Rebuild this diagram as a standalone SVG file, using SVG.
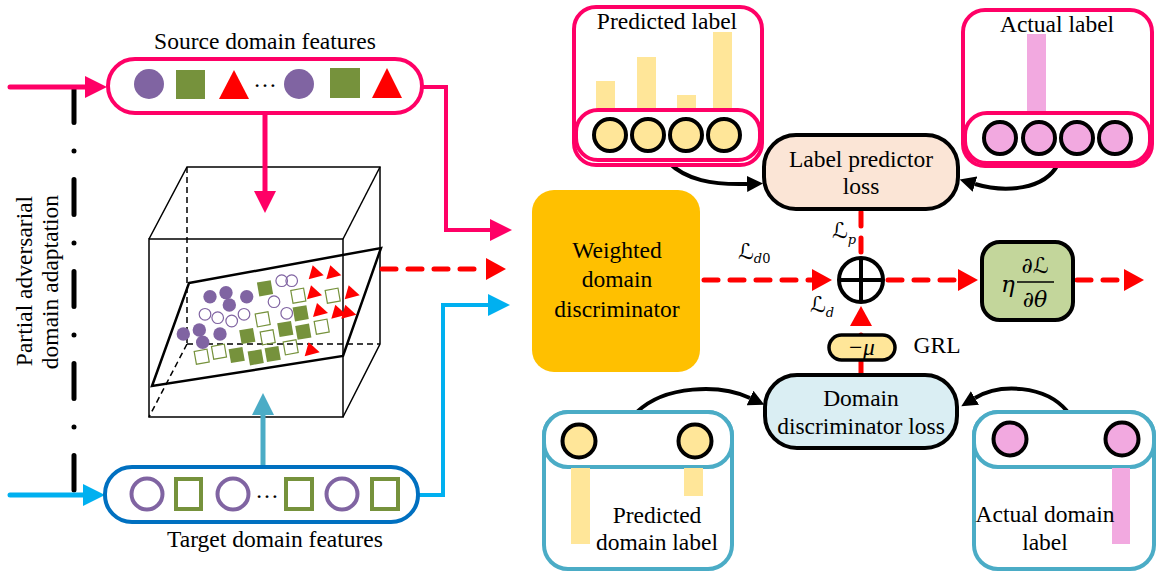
<svg xmlns="http://www.w3.org/2000/svg" width="1156" height="574" viewBox="0 0 1156 574">
<style>
.t{font-family:"Liberation Serif","Times New Roman",serif;font-size:23.5px;fill:#000}
.m{font-family:"DejaVu Serif","DejaVu Sans",serif;font-style:italic;fill:#000}
.box3d{fill:none;stroke:#000;stroke-width:1.5}
.dash3d{fill:none;stroke:#000;stroke-width:1.5;stroke-dasharray:6 4}
.rd{fill:none;stroke:#FF0000;stroke-width:5;stroke-dasharray:14 12;stroke-linecap:round}
.blk{fill:none;stroke:#000;stroke-width:4}
</style>
<defs>
<marker id="aPink" viewBox="0 0 22 22" markerWidth="22" markerHeight="22" refX="0" refY="11" orient="auto" markerUnits="userSpaceOnUse"><path d="M0,0 L22,11 L0,22 z" fill="#FF0066"/></marker>
<marker id="aBlue" viewBox="0 0 22 22" markerWidth="22" markerHeight="22" refX="0" refY="11" orient="auto" markerUnits="userSpaceOnUse"><path d="M0,0 L22,11 L0,22 z" fill="#00B0F0"/></marker>
<marker id="aTeal" viewBox="0 0 22 22" markerWidth="22" markerHeight="22" refX="0" refY="11" orient="auto" markerUnits="userSpaceOnUse"><path d="M0,0 L22,11 L0,22 z" fill="#4BACC6"/></marker>
<marker id="aRed" viewBox="0 0 20 22" markerWidth="20" markerHeight="22" refX="0" refY="11" orient="auto" markerUnits="userSpaceOnUse"><path d="M0,0 L20,11 L0,22 z" fill="#FF0000"/></marker>
<marker id="aBlk" viewBox="0 0 16 16" markerWidth="16" markerHeight="16" refX="0" refY="8" orient="auto" markerUnits="userSpaceOnUse"><path d="M0,0 L16,8 L0,16 z" fill="#000"/></marker>
<circle id="pf" r="6.7" fill="#8064A2"/>
<circle id="po" r="5.8" fill="none" stroke="#8064A2" stroke-width="1.2"/>
<rect id="gf" x="-7" y="-7" width="14" height="14" fill="#76923C" transform="rotate(-10)"/>
<rect id="go" x="-6.5" y="-6.5" width="13" height="13" fill="none" stroke="#76923C" stroke-width="1.2" transform="rotate(-10)"/>
<polygon id="rt" points="-7,7 8,3 -3,-7" fill="#FF0000"/>
</defs>

<!-- left side label -->
<g id="side-label">
<line x1="74" y1="87.5" x2="74" y2="490" stroke="#000" stroke-width="5" stroke-linecap="round" stroke-dasharray="35 28.5 0.01 28.5"/>
<text class="t" transform="translate(32,281) rotate(-90)" text-anchor="middle">Partial adversarial</text>
<text class="t" transform="translate(58,282) rotate(-90)" text-anchor="middle">domain adaptation</text>
</g>

<!-- 3D feature space -->
<g id="feature-space">
<polygon points="149,239 343,239 343,417 149,417" class="box3d"/>
<polyline points="149,239 187,167 380,167 380,344 343,417" class="box3d"/>
<line x1="343" y1="239" x2="380" y2="167" class="box3d"/>
<line x1="187" y1="167" x2="187" y2="344" class="dash3d"/>
<line x1="187" y1="344" x2="380" y2="344" class="dash3d"/>
<line x1="187" y1="344" x2="149" y2="417" class="dash3d"/>
<use href="#pf" x="210" y="296.7"/><use href="#pf" x="226" y="292.7"/><use href="#pf" x="246.7" y="296.7"/><use href="#pf" x="229.3" y="305"/>
<use href="#pf" x="183.3" y="334"/><use href="#pf" x="199.3" y="330"/><use href="#pf" x="220" y="334"/><use href="#pf" x="202.7" y="342.3"/>
<use href="#po" x="205" y="314.3"/><use href="#po" x="217.7" y="317.7"/><use href="#po" x="231.7" y="321"/><use href="#po" x="244" y="314.3"/>
<use href="#po" x="274" y="301.7"/><use href="#po" x="281.7" y="280.7"/><use href="#po" x="291.7" y="280.7"/><use href="#po" x="286.7" y="313.3"/>
<use href="#gf" x="265" y="288.3"/><use href="#gf" x="300.7" y="313.3"/><use href="#gf" x="247.3" y="336"/><use href="#gf" x="285.3" y="329"/>
<use href="#gf" x="303.3" y="331.7"/><use href="#gf" x="236.7" y="355"/><use href="#gf" x="255.7" y="357.3"/><use href="#gf" x="272.7" y="354"/>
<use href="#go" x="298.3" y="295.7"/><use href="#go" x="332.7" y="295.7"/><use href="#go" x="262.7" y="319.3"/><use href="#go" x="267.7" y="337.3"/>
<use href="#go" x="321.7" y="326.7"/><use href="#go" x="201.7" y="356.7"/><use href="#go" x="219" y="351.7"/><use href="#go" x="290.7" y="347.3"/>
<use href="#rt" x="315.7" y="272.3"/><use href="#rt" x="333.3" y="272.3"/><use href="#rt" x="314" y="292.3"/><use href="#rt" x="351.7" y="292.3"/>
<use href="#rt" x="320" y="310"/><use href="#rt" x="338.3" y="311.7"/><use href="#rt" x="348.3" y="311.7"/><use href="#rt" x="311.7" y="349.3"/>
<polygon points="189,283 381,248 343,356 152,386" fill="none" stroke="#000" stroke-width="2.5"/>
</g>

<!-- connectors -->
<g id="connectors">
<line x1="10" y1="87" x2="85" y2="87" stroke="#FF0066" stroke-width="5" stroke-linecap="round" marker-end="url(#aPink)"/>
<line x1="10" y1="495" x2="83" y2="495" stroke="#00B0F0" stroke-width="5" stroke-linecap="round" marker-end="url(#aBlue)"/>
<line x1="265" y1="113" x2="265" y2="191" stroke="#FF0066" stroke-width="5" marker-end="url(#aPink)"/>
<line x1="263" y1="467" x2="263" y2="415" stroke="#4BACC6" stroke-width="5" marker-end="url(#aTeal)"/>
<polyline points="422,87 446,87 446,230 490,230" fill="none" stroke="#FF0066" stroke-width="4" marker-end="url(#aPink)"/>
<polyline points="418,495 443,495 443,305 488,305" fill="none" stroke="#00B0F0" stroke-width="4" marker-end="url(#aBlue)"/>
<line x1="382" y1="269" x2="486" y2="269" class="rd" marker-end="url(#aRed)"/>
<line x1="704" y1="280" x2="812" y2="280" class="rd" marker-end="url(#aRed)"/>
<line x1="861" y1="212" x2="861" y2="255" class="rd"/>
<line x1="861" y1="375" x2="861" y2="326" class="rd" marker-end="url(#aRed)"/>
<line x1="888" y1="280" x2="958" y2="280" class="rd" marker-end="url(#aRed)"/>
<line x1="1077" y1="280" x2="1124" y2="280" class="rd" marker-end="url(#aRed)"/>
<path d="M668,162 C686,180 712,185 747,184" class="blk" marker-end="url(#aBlk)"/>
<path d="M1058,164 C1045,190 1005,193 975,184" class="blk" marker-end="url(#aBlk)"/>
<path d="M637,412 C665,385 720,384 750,398" class="blk" marker-end="url(#aBlk)"/>
<path d="M1067,411 C1045,385 1000,383 975,398" class="blk" marker-end="url(#aBlk)"/>
</g>

<!-- source features -->
<g id="source-features">
<text class="t" x="265" y="49" text-anchor="middle">Source domain features</text>
<rect x="108" y="59" width="314" height="54" rx="27" fill="#fff" stroke="#FF0066" stroke-width="4"/>
<circle cx="149" cy="84" r="15" fill="#8064A2"/>
<rect x="176" y="70" width="29" height="29" fill="#76923C"/>
<polygon points="219,99 249,99 234,70" fill="#FF0000"/>
<text class="t" x="265" y="87" text-anchor="middle">…</text>
<circle cx="299" cy="84" r="15" fill="#8064A2"/>
<rect x="330" y="68" width="30" height="30" fill="#76923C"/>
<polygon points="372,98 402,98 387,68" fill="#FF0000"/>
</g>

<!-- target features -->
<g id="target-features">
<rect x="105" y="467" width="313" height="55" rx="27" fill="#fff" stroke="#0070C0" stroke-width="4"/>
<g fill="none" stroke-width="4">
<circle cx="147" cy="494" r="15.5" stroke="#8064A2"/>
<rect x="176" y="479" width="25" height="30" stroke="#76923C"/>
<circle cx="233" cy="494" r="15.5" stroke="#8064A2"/>
<rect x="286" y="479" width="26" height="30" stroke="#76923C"/>
<circle cx="342" cy="494" r="15.5" stroke="#8064A2"/>
<rect x="372" y="479" width="26" height="30" stroke="#76923C"/>
</g>
<text class="t" x="267" y="498" text-anchor="middle">…</text>
<text class="t" x="275" y="547" text-anchor="middle">Target domain features</text>
</g>

<!-- weighted domain discriminator -->
<g id="weighted-discriminator">
<rect x="532" y="190" width="168" height="182" rx="22" fill="#FFC000"/>
<text class="t" x="617" y="258" text-anchor="middle">Weighted</text>
<text class="t" x="617" y="287" text-anchor="middle">domain</text>
<text class="t" x="617" y="317" text-anchor="middle">discriminator</text>
</g>

<!-- predicted label -->
<g id="predicted-label">
<rect x="574" y="7" width="188" height="158" rx="22" fill="#fff" stroke="#FF0066" stroke-width="4"/>
<text class="t" x="667" y="29" text-anchor="middle">Predicted label</text>
<rect x="596" y="81" width="19" height="29" fill="#FFE699"/>
<rect x="637" y="57" width="19" height="53" fill="#FFE699"/>
<rect x="677" y="95" width="19" height="15" fill="#FFE699"/>
<rect x="713" y="32" width="19" height="78" fill="#FFE699"/>
<rect x="576" y="110" width="184" height="50" rx="22" fill="#fff" stroke="#FF0066" stroke-width="4"/>
<g fill="#FFE699" stroke="#000" stroke-width="4">
<circle cx="610" cy="135" r="16"/><circle cx="648" cy="135" r="16"/><circle cx="686" cy="135" r="16"/><circle cx="724" cy="135" r="16"/>
</g>
</g>

<!-- actual label -->
<g id="actual-label">
<rect x="963" y="10" width="189" height="156" rx="22" fill="#fff" stroke="#FF0066" stroke-width="4"/>
<text class="t" x="1057" y="32" text-anchor="middle">Actual label</text>
<rect x="1027" y="34" width="19" height="79" fill="#F2A9E0"/>
<rect x="965" y="113" width="185" height="50" rx="22" fill="#fff" stroke="#FF0066" stroke-width="4"/>
<g fill="#F2A9E0" stroke="#000" stroke-width="4">
<circle cx="1000" cy="138" r="16"/><circle cx="1039" cy="138" r="16"/><circle cx="1077" cy="138" r="16"/><circle cx="1115" cy="138" r="16"/>
</g>
</g>

<!-- label predictor loss -->
<g id="label-predictor-loss">
<rect x="764" y="135" width="194" height="74" rx="32" fill="#FBE5D6" stroke="#000" stroke-width="4"/>
<text class="t" x="861" y="167" text-anchor="middle">Label predictor</text>
<text class="t" x="861" y="194" text-anchor="middle">loss</text>
</g>

<!-- sum node -->
<g id="sum-node">
<circle cx="861" cy="280" r="22" fill="#fff" stroke="#000" stroke-width="4"/>
<line x1="839" y1="280" x2="883" y2="280" stroke="#000" stroke-width="4"/>
<line x1="861" y1="258" x2="861" y2="302" stroke="#000" stroke-width="4"/>
</g>

<!-- GRL -->
<g id="grl">
<rect x="829" y="335" width="66" height="25" rx="12.5" fill="#FFE699" stroke="#000" stroke-width="3.5"/>
<text class="t" x="861" y="355" text-anchor="middle" font-style="italic" font-size="21">−μ</text>
<text class="t" x="937" y="353" text-anchor="middle">GRL</text>
</g>

<!-- gradient update -->
<g id="gradient">
<rect x="982" y="242" width="91" height="78" rx="18" fill="#C3D69B" stroke="#000" stroke-width="4"/>
<text class="m" x="1008" y="292" text-anchor="middle" font-size="23">η</text>
<text class="m" x="1035" y="273" text-anchor="middle" font-size="22">∂ℒ</text>
<line x1="1017" y1="282" x2="1054" y2="282" stroke="#000" stroke-width="1.5"/>
<text class="m" x="1035" y="307" text-anchor="middle" font-size="22">∂θ</text>
</g>

<!-- domain discriminator loss -->
<g id="domain-discriminator-loss">
<rect x="765" y="375" width="192" height="73" rx="32" fill="#DAEEF3" stroke="#000" stroke-width="4"/>
<text class="t" x="861" y="406" text-anchor="middle">Domain</text>
<text class="t" x="861" y="434" text-anchor="middle">discriminator loss</text>
</g>

<!-- predicted domain label -->
<g id="predicted-domain-label">
<rect x="544" y="412" width="188" height="157" rx="24" fill="#fff" stroke="#4BACC6" stroke-width="4"/>
<rect x="544" y="412" width="188" height="55" rx="24" fill="#fff" stroke="#4BACC6" stroke-width="4"/>
<rect x="571" y="468" width="19" height="76" fill="#FFE699"/>
<rect x="684" y="468" width="19" height="28" fill="#FFE699"/>
<circle cx="579" cy="441" r="16.5" fill="#FFE699" stroke="#000" stroke-width="4"/>
<circle cx="695" cy="441" r="16.5" fill="#FFE699" stroke="#000" stroke-width="4"/>
<text class="t" x="657" y="523" text-anchor="middle">Predicted</text>
<text class="t" x="657" y="550" text-anchor="middle">domain label</text>
</g>

<!-- actual domain label -->
<g id="actual-domain-label">
<rect x="974" y="412" width="180" height="157" rx="24" fill="#fff" stroke="#4BACC6" stroke-width="4"/>
<rect x="974" y="412" width="180" height="55" rx="24" fill="#fff" stroke="#4BACC6" stroke-width="4"/>
<rect x="1112" y="468" width="18" height="76" fill="#F2A9E0"/>
<circle cx="1010" cy="439" r="16.5" fill="#F2A9E0" stroke="#000" stroke-width="4"/>
<circle cx="1122" cy="439" r="16.5" fill="#F2A9E0" stroke="#000" stroke-width="4"/>
<text class="t" x="1045" y="522" text-anchor="middle">Actual domain</text>
<text class="t" x="1045" y="550" text-anchor="middle">label</text>
</g>

<!-- loss labels -->
<g id="loss-labels">
<text class="m" x="738" y="259" font-size="22">ℒ<tspan font-size="13" dy="4">d</tspan><tspan font-size="13" font-style="normal">0</tspan></text>
<text class="m" x="832" y="238" font-size="22">ℒ<tspan font-size="13" dy="6">p</tspan></text>
<text class="m" x="810" y="312" font-size="22">ℒ<tspan font-size="13" dy="5">d</tspan></text>
</g>
</svg>
